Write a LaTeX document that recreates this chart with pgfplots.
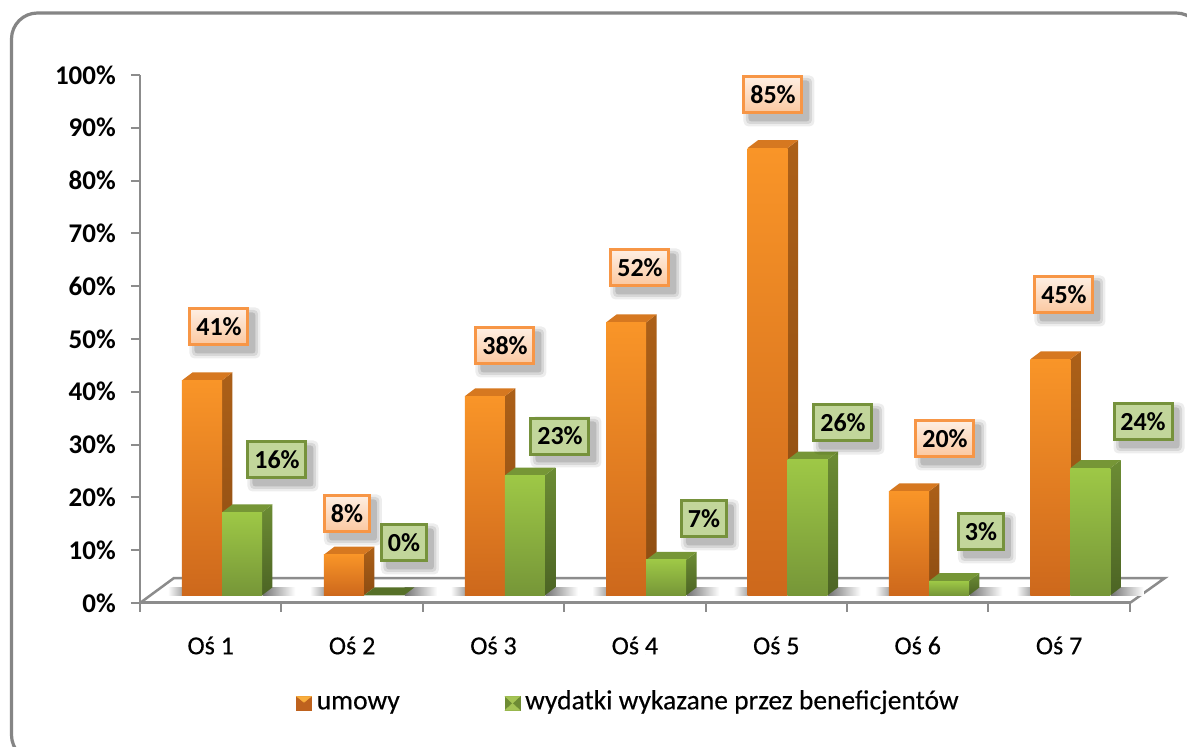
\documentclass[border=0pt]{standalone}
\usepackage{fontspec}
\setmainfont{Carlito}
\newfontfamily\semib[FakeBold=0.3]{Carlito}
\usepackage{pgfplots}
\pgfplotsset{compat=1.18}
\definecolor{axgray}{HTML}{8C8C8C}
\definecolor{frameg}{HTML}{858585}
\tikzset{
 ofront/.style={top color={rgb,255:red,249;green,149;blue,40},bottom color={rgb,255:red,205;green,104;blue,28}},
 oside/.style={top color={rgb,255:red,172;green,96;blue,24},bottom color={rgb,255:red,140;green,76;blue,18}},
 otop/.style={fill={rgb,255:red,214;green,120;blue,32}},
 gfront/.style={top color={rgb,255:red,158;green,200;blue,70},bottom color={rgb,255:red,118;green,150;blue,56}},
 gside/.style={top color={rgb,255:red,108;green,140;blue,52},bottom color={rgb,255:red,76;green,100;blue,36}},
 gtop/.style={fill={rgb,255:red,118;green,150;blue,54}},
 flat/.style={fill={rgb,255:red,86;green,112;blue,40}},
}
% one bar: left x, value, colour prefix
\newcommand\bbar[3]{%
 \addplot[forget plot,draw=none,#3side] coordinates {(#1+.283,1.46) (#1+.357,2.96) (#1+.357,#2+2.66) (#1+.283,#2+1.16)} --cycle;
 \addplot[forget plot,draw=none,#3top] coordinates {(#1,#2+1.16) (#1+.283,#2+1.16) (#1+.357,#2+2.66) (#1+.074,#2+2.66)} --cycle;
 \addplot[forget plot,draw=none,#3front] coordinates {(#1,1.46) (#1+.283,1.46) (#1+.283,#2+1.16) (#1,#2+1.16)} --cycle;
}
% floor shadows either side of a pair of bars: left x of the pair
\newcommand\fshadow[1]{%
 \addplot[forget plot,draw=none,left color=black!55,right color=white] coordinates {(#1+.57,1.46) (#1+.80,1.46) (#1+.80,3.0) (#1+.57,3.0)} --cycle;
 \addplot[forget plot,draw=none,right color=black!40,left color=white] coordinates {(#1-.10,1.46) (#1+.02,1.46) (#1+.02,3.0) (#1-.10,3.0)} --cycle;
}
% data label: centre in picture pixels, width, frame colour, top fill, bottom fill, text
\newcommand\lab[7]{%
 \node[fill=black,opacity=.07,minimum width=#3pt+10pt,minimum height=51pt,inner sep=0pt,rounded corners=5pt] at (axis cs:{(#1+6-140)/141.4},{(603-#2-6)/5.28}) {};
 \node[fill=black,opacity=.09,minimum width=#3pt+5pt,minimum height=46pt,inner sep=0pt,rounded corners=4pt] at (axis cs:{(#1+6-140)/141.4},{(603-#2-6)/5.28}) {};
 \node[fill=black,opacity=.13,minimum width=#3pt,minimum height=41pt,inner sep=0pt,rounded corners=3pt] at (axis cs:{(#1+6-140)/141.4},{(603-#2-6)/5.28}) {};
 \node[draw=#4,line width=3pt,top color=#5,bottom color=#6,minimum width=#3pt-3pt,minimum height=36pt,inner sep=0pt,
   font=\fontsize{26}{28}\selectfont\bfseries,text=black] at (axis cs:{(#1-140)/141.4},{(603-#2)/5.28}) {#7\%};
}
\definecolor{ol}{HTML}{F79646}\definecolor{ot}{HTML}{FEEEE2}\definecolor{ob}{HTML}{FBC8A0}
\definecolor{gl}{HTML}{76923C}\definecolor{gf}{HTML}{C2D69B}
\definecolor{lgo}{HTML}{BE621E}\definecolor{lgoh}{HTML}{F9AE3C}
\definecolor{lgg}{HTML}{6E8C34}\definecolor{lggh}{HTML}{A5C455}
\newcommand\olab[4]{\lab{#1}{#2}{#3}{ol}{ot}{ob}{#4}}
\newcommand\glab[4]{\lab{#1}{#2}{#3}{gl}{gf}{gf}{#4}}
\begin{document}
\begin{tikzpicture}
\path[use as bounding box,clip] (0,0) rectangle (1187pt,747pt);
\fill[white] (0,0) rectangle (1187pt,747pt);
\draw[frameg,line width=3.2pt,rounded corners=26pt] (11.5pt,-14pt) rectangle (1202pt,734pt);
\begin{axis}[
 at={(140pt,144pt)},anchor=origin,
 scale only axis,width=989.8pt,height=528pt,
 xmin=0,xmax=7,ymin=0,ymax=100,clip=false,
 axis lines=left,axis line style={-},
 x axis line style={line width=3pt,axgray},
 y axis line style={line width=2pt,axgray},
 tick align=outside,
 ytick={0,10,...,100},
 yticklabels={0\%,10\%,20\%,30\%,40\%,50\%,60\%,70\%,80\%,90\%,100\%},
 yticklabel style={font=\fontsize{27}{29}\selectfont\bfseries,text=black,inner sep=0pt},
 y tick label style={xshift=-15pt},
 major tick length=9pt,
 y tick style={line width=2pt,axgray},
 xtick={0.5,1.5,2.5,3.5,4.5,5.5,6.5},
 xticklabels={Oś 1,Oś 2,Oś 3,Oś 4,Oś 5,Oś 6,Oś 7},
 xticklabel style={font=\semib\fontsize{26}{28}\selectfont,text=black,yshift=-21pt},
 major x tick style={draw=none},
 minor xtick={0,1,2,3,4,5,6,7},
 minor tick length=9pt,
 minor x tick style={line width=2pt,axgray},
 legend columns=2,
 legend cell align=left,
 legend style={at={(0.495,-0.19)},anchor=center,draw=none,fill=none,
   font=\semib\fontsize{27.5}{29}\selectfont,
   nodes={inner xsep=5pt,text height=18pt,text depth=6pt},
   /tikz/every even column/.append style={column sep=100pt}},
]
\addlegendimage{legend image code/.code={%
  \fill[lgo] (0pt,-7pt) rectangle (15pt,7pt);
  \fill[lgoh] (0pt,7pt) -- (15pt,7pt) -- (7.5pt,1pt) -- cycle;}}
\addlegendentry{umowy}
\addlegendimage{legend image code/.code={%
  \fill[lgg] (0pt,-7pt) rectangle (15pt,7pt);
  \fill[lggh] (0pt,7pt) -- (15pt,7pt) -- (7.5pt,0pt) -- cycle;
  \fill[lggh] (0pt,-7pt) -- (15pt,-7pt) -- (7.5pt,0pt) -- cycle;}}
\addlegendentry{wydatki wykazane przez beneficjentów}
% floor
\addplot[forget plot,axgray,line width=2.5pt] coordinates {(0,0) (0.24,4.73) (7.248,4.73) (7,0)};
\fshadow{0.297}\fshadow{1.301}\fshadow{2.297}\fshadow{3.297}\fshadow{4.297}\fshadow{5.297}\fshadow{6.297}
% orange: umowy
\bbar{0.297}{41}{o}
\bbar{1.301}{8}{o}
\bbar{2.297}{38}{o}
\bbar{3.297}{52}{o}
\bbar{4.297}{85}{o}
\bbar{5.297}{20}{o}
\bbar{6.297}{45}{o}
% green: wydatki
\bbar{0.580}{16}{g}
\addplot[forget plot,draw=none,flat] coordinates {(1.584,1.46) (1.867,1.46) (1.941,2.96) (1.658,2.96)} --cycle;
\bbar{2.580}{23}{g}
\bbar{3.580}{7}{g}
\bbar{4.580}{26}{g}
\bbar{5.580}{3}{g}
\bbar{6.580}{24.4}{g}
% labels
\olab{219}{327}{61}{41}
\olab{347}{514}{48}{8}
\olab{505}{346}{61}{38}
\olab{640}{268}{61}{52}
\olab{773}{95}{61}{85}
\olab{945}{439}{61}{20}
\olab{1064}{295}{61}{45}
\glab{277}{460}{61}{16}
\glab{404}{543}{48}{0}
\glab{560}{436}{61}{23}
\glab{704}{519}{48}{7}
\glab{843}{423}{61}{26}
\glab{981}{532}{48}{3}
\glab{1143}{422}{61}{24}
\end{axis}
\end{tikzpicture}
\end{document}
